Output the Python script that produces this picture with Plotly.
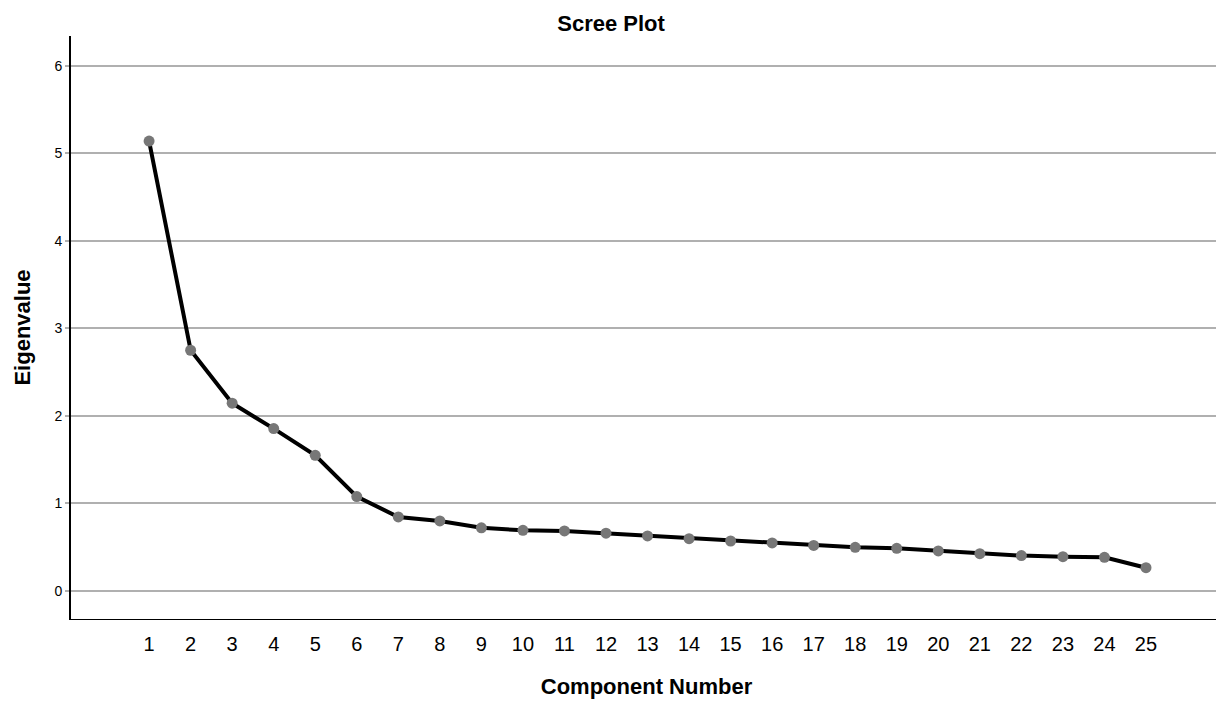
import plotly.graph_objects as go

components = list(range(1, 26))
eigenvalues = [5.14, 2.75, 2.145, 1.855, 1.55, 1.078, 0.846, 0.80, 0.722, 0.693,
               0.686, 0.66, 0.629, 0.598, 0.571, 0.549, 0.52, 0.499, 0.488, 0.457,
               0.426, 0.404, 0.392, 0.385, 0.266]
y_ticks = [0, 1, 2, 3, 4, 5, 6]

fig = go.Figure()
fig.add_trace(go.Scatter(
    x=components, y=eigenvalues, mode="lines+markers",
    line=dict(color="black", width=4),
    marker=dict(color="#777777", size=11, line=dict(width=0)),
    showlegend=False, hoverinfo="x+y",
))

font = "Liberation Sans, Arial, sans-serif"
fig.update_layout(
    width=1224, height=707,
    margin=dict(l=63, r=10, t=28, b=96),
    paper_bgcolor="white", plot_bgcolor="white",
    title=dict(text="<b>Scree Plot</b>", x=0.4927, xanchor="center", y=0.979, yanchor="middle",
               font=dict(family=font, size=22, color="black")),
    font=dict(family=font, color="black"),
)
fig.update_xaxes(
    range=[-0.88, 26.83], tickmode="array", tickvals=components,
    ticktext=[str(c) for c in components],
    showgrid=False, zeroline=False,
    showline=True, linecolor="black", linewidth=1,
    ticks="", ticklabelstandoff=7,
    tickfont=dict(family=font, size=20, color="black"),
    title=dict(text="<b>Component Number</b>", font=dict(family=font, size=22, color="black"), standoff=24),
)
fig.update_yaxes(
    range=[-0.32, 6.34], tickmode="array", tickvals=y_ticks,
    showgrid=True, gridcolor="#b0b0b0", gridwidth=1.5, zeroline=False,
    showline=True, linecolor="black", linewidth=2,
    ticks="outside", ticklen=4, tickcolor="#b0b0b0", tickwidth=1.5,
    tickfont=dict(family=font, size=14, color="black"),
    title=dict(text="<b>Eigenvalue</b>", font=dict(family=font, size=22, color="black"), standoff=18),
)

fig.write_html("out.html")
